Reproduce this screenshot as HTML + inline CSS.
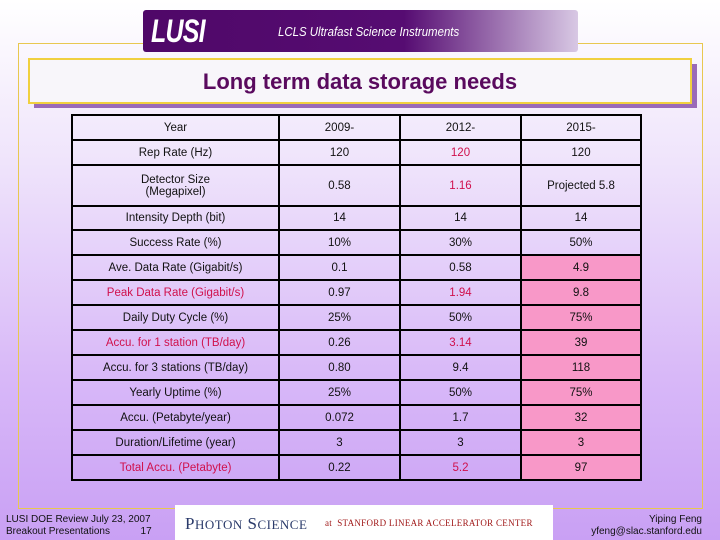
<!DOCTYPE html>
<html><head><meta charset="utf-8"><style>
body{margin:0;width:720px;height:540px;overflow:hidden;font-family:"Liberation Sans",sans-serif;}
#slide{position:relative;width:720px;height:540px;background:linear-gradient(#ffffff 0%,#efe4fb 30%,#d8b8f8 70%,#c9a0f4 100%);}
.abs{position:absolute;}
table{position:absolute;left:71px;top:114px;border-collapse:collapse;font-size:11.5px;color:#111;}
td{border:2px solid #000;text-align:center;padding:0;height:21px;}
td.p{background:#f898c8;}
.r{color:#d0104c;}
</style></head><body>
<div id="slide">
<div class="abs" style="left:18px;top:43px;width:683px;height:464px;border:1px solid #e8c850;"></div>
<div class="abs" style="left:143px;top:10px;width:435px;height:42px;border-radius:3px;background:linear-gradient(90deg,#4f0868 0%,#560c72 60%,#d8c8e4 100%);">
<span class="abs" style="left:8px;top:3px;font:italic bold 32px 'Liberation Sans',sans-serif;color:#fff;letter-spacing:-1px;transform:scaleX(0.78);transform-origin:left;">LUSI</span>
<span class="abs" style="left:135px;top:14px;font:italic 13px 'Liberation Sans',sans-serif;color:#fff;transform:scaleX(0.88);transform-origin:left;">LCLS Ultrafast Science Instruments</span>
</div>
<div class="abs" style="left:34px;top:64px;width:663px;height:44px;background:#9a6ab8;"></div>
<div class="abs" style="left:28px;top:58px;width:660px;height:42px;background:#f8f6fa;border:2px solid #f0d040;text-align:center;line-height:44px;font-size:22px;font-weight:bold;color:#5a0a5e;">Long term data storage needs</div>
<table>
<colgroup><col style="width:207px"><col style="width:121px"><col style="width:121px"><col style="width:120px"></colgroup>
<tr style="height:25px"><td>Year</td><td>2009-</td><td>2012-</td><td>2015-</td></tr>
<tr style="height:25px"><td>Rep Rate (Hz)</td><td>120</td><td class="r">120</td><td>120</td></tr>
<tr style="height:41px"><td>Detector Size<br>(Megapixel)</td><td>0.58</td><td class="r">1.16</td><td>Projected 5.8</td></tr>
<tr style="height:24px"><td>Intensity Depth (bit)</td><td>14</td><td>14</td><td>14</td></tr>
<tr style="height:25px"><td>Success Rate (%)</td><td>10%</td><td>30%</td><td>50%</td></tr>
<tr style="height:25px"><td>Ave. Data Rate (Gigabit/s)</td><td>0.1</td><td>0.58</td><td class="p">4.9</td></tr>
<tr style="height:25px"><td class="r">Peak Data Rate (Gigabit/s)</td><td>0.97</td><td class="r">1.94</td><td class="p">9.8</td></tr>
<tr style="height:25px"><td>Daily Duty Cycle (%)</td><td>25%</td><td>50%</td><td class="p">75%</td></tr>
<tr style="height:25px"><td class="r">Accu. for 1 station (TB/day)</td><td>0.26</td><td class="r">3.14</td><td class="p">39</td></tr>
<tr style="height:25px"><td>Accu. for 3 stations (TB/day)</td><td>0.80</td><td>9.4</td><td class="p">118</td></tr>
<tr style="height:25px"><td>Yearly Uptime (%)</td><td>25%</td><td>50%</td><td class="p">75%</td></tr>
<tr style="height:25px"><td>Accu. (Petabyte/year)</td><td>0.072</td><td>1.7</td><td class="p">32</td></tr>
<tr style="height:25px"><td>Duration/Lifetime (year)</td><td>3</td><td>3</td><td class="p">3</td></tr>
<tr style="height:25px"><td class="r">Total Accu. (Petabyte)</td><td>0.22</td><td class="r">5.2</td><td class="p">97</td></tr>
</table>
<div class="abs" style="left:6px;top:514px;font-size:10px;line-height:12px;color:#111;">LUSI DOE Review July 23, 2007<br>Breakout Presentations&nbsp;&nbsp;&nbsp;&nbsp;&nbsp;&nbsp;&nbsp;&nbsp;&nbsp;&nbsp;&nbsp;17</div>
<div class="abs" style="left:175px;top:505px;width:378px;height:35px;background:#fff;">
<span class="abs" style="left:10px;top:9px;font:17px 'Liberation Serif',serif;color:#2a3a6a;letter-spacing:0.5px;">P<span style="font-size:13px">HOTON</span> S<span style="font-size:13px">CIENCE</span></span>
<span class="abs" style="left:150px;top:13px;font:9px 'Liberation Serif',serif;color:#a01818;letter-spacing:0.3px;">at&nbsp; STANFORD LINEAR ACCELERATOR CENTER</span>
</div>
<div class="abs" style="right:18px;top:514px;font-size:10px;line-height:12px;color:#111;text-align:right;">Yiping Feng<br>yfeng@slac.stanford.edu</div>
</div>
</body></html>
